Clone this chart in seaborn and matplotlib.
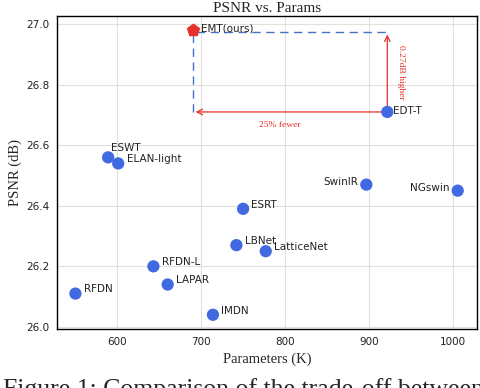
import matplotlib
matplotlib.use("Agg")
import matplotlib.pyplot as plt
import seaborn as sns
import pandas as pd

# baseline models
names = ["EDT-T", "ESWT", "ELAN-light", "ESRT", "LBNet", "LatticeNet",
         "RFDN-L", "LAPAR", "RFDN", "IMDN", "SwinIR", "NGswin"]
params = [922, 589, 601, 750, 742, 777, 643, 660, 550, 714, 897, 1006]
psnr = [26.71, 26.56, 26.54, 26.39, 26.27, 26.25, 26.20, 26.14, 26.11, 26.04, 26.47, 26.45]

# ours
ours_name = "EMT(ours)"
ours_params = 690
ours_psnr = 26.98

left_labels = {"SwinIR", "NGswin"}

df = pd.DataFrame({"name": names, "params": params, "psnr": psnr})

sns.set_style("whitegrid")
serif = ["Liberation Serif", "DejaVu Serif"]

fig, ax = plt.subplots(figsize=(4.8, 3.88), dpi=100)
fig.subplots_adjust(left=57 / 480, right=477 / 480, top=1 - 16 / 388, bottom=1 - 329 / 388)

blue = "#4169e1"
red = "#e8302a"

sns.scatterplot(data=df, x="params", y="psnr", color=blue, s=78,
                edgecolor="none", ax=ax, zorder=3)
ax.scatter([ours_params], [ours_psnr], marker="p", color=red, s=80, zorder=4)

for _, r in df.iterrows():
    if r["name"] in left_labels:
        ax.annotate(r["name"], (r["params"], r["psnr"]), xytext=(-6, 2),
                    textcoords="offset points", ha="right", va="center",
                    fontsize=7.5, color="#222")
    elif r["name"] == "ESWT":
        ax.annotate(r["name"], (r["params"], r["psnr"]), xytext=(2, 7),
                    textcoords="offset points", ha="left", va="center",
                    fontsize=7.5, color="#222")
    elif r["name"] == "EDT-T":
        ax.annotate(r["name"], (r["params"], r["psnr"]), xytext=(4, 1),
                    textcoords="offset points", ha="left", va="center",
                    fontsize=7.5, color="#222")
    else:
        ax.annotate(r["name"], (r["params"], r["psnr"]), xytext=(6, 3),
                    textcoords="offset points", ha="left", va="center",
                    fontsize=7.5, color="#222")
ax.annotate(ours_name, (ours_params, ours_psnr), xytext=(6, 1),
            textcoords="offset points", ha="left", va="center",
            fontsize=7.5, color="#222")

# comparison box
edt_x, edt_y = params[0], psnr[0]
ax.plot([ours_params, ours_params, edt_x], [edt_y, 26.975, 26.975],
        ls=(0, (6, 4)), color="#4472c4", lw=1, zorder=2)
ax.annotate("", xy=(ours_params, edt_y), xytext=(edt_x, edt_y),
            arrowprops=dict(arrowstyle="->", color=red, lw=0.9), zorder=2)
ax.annotate("", xy=(edt_x, 26.975), xytext=(edt_x, edt_y),
            arrowprops=dict(arrowstyle="->", color=red, lw=0.9), zorder=2)
ax.text(794, 26.667, "25% fewer", color=red, fontsize=6.8, ha="center",
        va="center", family=serif)
ax.text(938, 26.84, "0.27dB higher", color=red, fontsize=6.8, ha="center",
        va="center", rotation=270, family=serif)

ax.set_xlim(528, 1029)
ax.set_ylim(25.993, 27.027)
ax.set_xticks([600, 700, 800, 900, 1000])
ax.set_yticks([26.0, 26.2, 26.4, 26.6, 26.8, 27.0])
ax.set_yticklabels(["26.0", "26.2", "26.4", "26.6", "26.8", "27.0"])
ax.tick_params(labelsize=7.5, labelcolor="#222", length=3.5, width=0.8,
               color="#444", pad=2)
ax.grid(color="#e0e0e0", lw=0.8)
for s in ax.spines.values():
    s.set_color("black")
    s.set_linewidth(1)

ax.set_xlabel("Parameters (K)", family=serif, fontsize=10.5, labelpad=4)
ax.set_ylabel("PSNR (dB)", family=serif, fontsize=10.5, labelpad=3)
ax.set_title("PSNR vs. Params", family=serif, fontsize=11, pad=3)

# caption of the source figure, cut off by the frame
fig.text(0.006, 1 - 378 / 388, "Figure 1: Comparison of the trade-off between",
         family=serif, fontsize=18.5, va="top", ha="left")

fig.savefig("out.png", dpi=100)
